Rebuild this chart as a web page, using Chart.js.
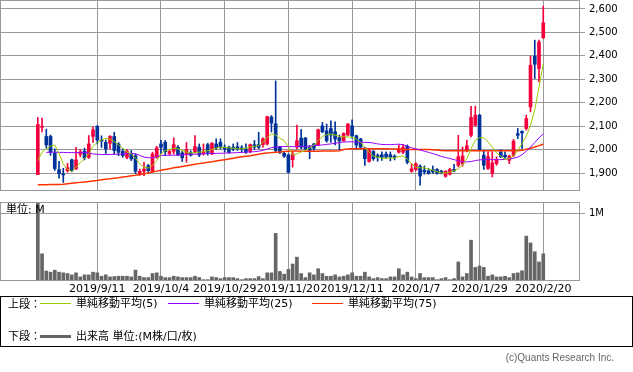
<!DOCTYPE html>
<html>
<head>
<meta charset="utf-8">
<script src="https://cdn.jsdelivr.net/npm/chart.js@4.4.1/dist/chart.umd.min.js"></script>
<style>
  body { margin: 0; background: #fff; }
  #wrap { position: relative; width: 633px; height: 372px; overflow: hidden; font-family: "DejaVu Sans", "Noto Sans CJK JP", sans-serif; }
  canvas { position: absolute; left: 0; }
  #price { top: 0; }
  #vol { top: 202px; }
  .t { position: absolute; font-size: 11px; line-height: 13px; color: #000; white-space: nowrap; font-family: "DejaVu Sans", "Noto Sans CJK JP", sans-serif; }
  #legend { position: absolute; left: 0; top: 296px; width: 633px; height: 51px; box-sizing: border-box; border: 1px solid #000; }
  .ln { position: absolute; width: 31px; }
</style>
</head>
<body>
<div id="wrap">
  <canvas id="price" width="633" height="191"></canvas>
  <canvas id="vol" width="633" height="100"></canvas>
  <div class="t" style="left:6px; top:203px;">単位: M</div>
  <div id="legend">
    <div class="t" style="left:7px; top:1px;">上段：</div>
    <div class="ln" style="left:39px; top:6px; height:1px; background:#99cc00;"></div>
    <div class="t" style="left:75px; top:0px;">単純移動平均(5)</div>
    <div class="ln" style="left:167px; top:6px; height:1px; background:#9900ff;"></div>
    <div class="t" style="left:203px; top:0px;">単純移動平均(25)</div>
    <div class="ln" style="left:311px; top:6px; height:1px; background:#ff3300;"></div>
    <div class="t" style="left:347px; top:0px;">単純移動平均(75)</div>
    <div class="t" style="left:7px; top:33px;">下段：</div>
    <div class="ln" style="left:39px; top:38px; height:3px; background:#666;"></div>
    <div class="t" style="left:75px; top:33px;">出来高 単位:(M株/口/枚)</div>
  </div>
  <div class="t" style="right:19px; top:351px; font-family:'Liberation Sans', sans-serif; font-size:10px; color:#666;">(c)Quants Research Inc.</div>
</div>
<script>
// daily candles, oldest first
const open = [
  1893, 2095, 2056, 2056, 1985, 1914, 1895, 1910, 1956, 1917,
  1980, 1993, 1967, 2056, 2099, 2041, 2031, 2027, 2056, 2024,
  1993, 1967, 1981, 1974, 1896, 1907, 1931, 1907, 1967, 2024,
  2031, 1983, 1993, 2010, 1986, 1980, 1988, 1990, 2010, 1982,
  2021, 1982, 2024, 2031, 2010, 2010, 2010, 2012, 2008, 2003,
  1991, 2021, 2021, 2021, 2024, 2139, 2110, 2010, 1984, 1977,
  1957, 2010, 2049, 2049, 2010, 2024, 2020, 2101, 2080, 2090,
  2076, 2051, 2038, 2062, 2101, 2059, 2045, 2007, 1949, 1992,
  1975, 1978, 1981, 1978, 1972, 1989, 1989, 2014, 1907, 1915,
  1929, 1912, 1909, 1915, 1915, 1908, 1886, 1895, 1915, 1933,
  1940, 1997, 2061, 2104, 2147, 1976, 1919, 1898, 1940, 1990,
  1976, 1954, 1976, 2068, 2078, 2090, 2182, 2398, 2346, 2477
];
const high = [
  2137, 2134, 2087, 2062, 2003, 1950, 1920, 1941, 1960, 2010,
  2000, 2006, 2060, 2096, 2103, 2059, 2041, 2060, 2074, 2030,
  2003, 2000, 1996, 1981, 1917, 1946, 1937, 1989, 2014, 2039,
  2039, 2000, 2050, 2017, 1992, 2030, 1995, 2060, 2024, 2024,
  2027, 2030, 2046, 2046, 2020, 2015, 2024, 2030, 2017, 2024,
  2024, 2039, 2074, 2050, 2141, 2145, 2293, 2014, 1990, 1982,
  1992, 2105, 2085, 2052, 2017, 2027, 2088, 2116, 2109, 2123,
  2118, 2062, 2072, 2111, 2127, 2062, 2048, 2010, 2003, 1996,
  1982, 1990, 1990, 1990, 1978, 2020, 2020, 2020, 1940, 1945,
  1935, 1930, 1919, 1930, 1919, 1912, 1910, 1920, 1937, 2061,
  2011, 2040, 2185, 2185, 2150, 1997, 1990, 1990, 1969, 2000,
  1990, 1976, 2043, 2090, 2080, 2147, 2398, 2467, 2467, 2612
];
const low = [
  1893, 2075, 2006, 1975, 1911, 1878, 1860, 1903, 1905, 1915,
  1970, 1956, 1962, 2031, 2024, 2009, 1983, 2003, 1981, 1974,
  1967, 1960, 1953, 1898, 1890, 1889, 1903, 1903, 1963, 1984,
  1974, 1976, 1981, 1974, 1949, 1946, 1972, 1985, 1970, 1976,
  1976, 1978, 2000, 2003, 1990, 1984, 1995, 1996, 1990, 1984,
  1986, 2000, 2003, 2010, 2020, 2075, 1991, 1982, 1966, 1900,
  1925, 2003, 2003, 1998, 1961, 1996, 2017, 2072, 2031, 2031,
  2020, 1996, 2034, 2060, 2048, 2000, 2003, 1932, 1946, 1954,
  1950, 1954, 1961, 1952, 1956, 1985, 1982, 1939, 1903, 1910,
  1848, 1895, 1895, 1898, 1895, 1896, 1882, 1891, 1905, 1926,
  1929, 1990, 2054, 2100, 1997, 1915, 1915, 1883, 1933, 1966,
  1962, 1940, 1969, 2047, 2004, 2083, 2161, 2303, 2289, 2474
];
const close = [
  2107, 2100, 2020, 1989, 1919, 1897, 1892, 1923, 1910, 1956,
  1990, 1964, 2024, 2084, 2041, 2036, 2003, 2056, 1996, 1988,
  1974, 1993, 1960, 1907, 1907, 1917, 1910, 1981, 2007, 2010,
  1991, 1992, 2021, 1977, 1965, 2000, 1976, 2013, 1977, 1993,
  1988, 2027, 2008, 2010, 2003, 1988, 2003, 2002, 2002, 1988,
  2021, 2010, 2010, 2046, 2141, 2113, 1996, 1988, 1972, 1903,
  1981, 2038, 2010, 2003, 1996, 2006, 2085, 2076, 2038, 2062,
  2045, 2037, 2069, 2109, 2059, 2020, 2010, 1961, 1996, 1961,
  1968, 1967, 1968, 1968, 1966, 2003, 2010, 1946, 1918, 1939,
  1887, 1905, 1898, 1905, 1898, 1900, 1908, 1915, 1909, 1969,
  1973, 2016, 2137, 2147, 2000, 1933, 1969, 1943, 1957, 1969,
  1969, 1972, 2036, 2061, 2071, 2132, 2360, 2364, 2459, 2541
];
// moving averages as drawn (5 / 25 / 75 days)
const ma5 = [
  1953, 1989, 2003, 2014, 2020, 1982, 1939, 1915, 1907, 1925,
  1944, 1961, 1982, 2014, 2031, 2041, 2048, 2045, 2034, 2020,
  2006, 1989, 1982, 1963, 1939, 1925, 1921, 1932, 1953, 1980,
  1996, 2000, 2006, 2003, 1996, 1989, 1986, 1986, 1989, 1991,
  1995, 2000, 2006, 2010, 2010, 2007, 2006, 2003, 2003, 2006,
  2011, 2014, 2017, 2031, 2053, 2067, 2062, 2048, 2038, 2010,
  1976, 1982, 1990, 1996, 2006, 2020, 2038, 2056, 2063, 2066,
  2062, 2056, 2055, 2054, 2052, 2045, 2031, 2010, 1989, 1972,
  1968, 1963, 1963, 1964, 1964, 1970, 1972, 1960, 1939, 1925,
  1922, 1922, 1917, 1912, 1905, 1901, 1900, 1904, 1909, 1919,
  1933, 1962, 2004, 2040, 2051, 2051, 2033, 2011, 1986, 1972,
  1957, 1962, 1972, 1997, 2026, 2057, 2104, 2168, 2267, 2367
];
const ma25 = [
  null, null, 1988, 1989, 1989, 1988, 1988, 1987, 1987, 1987,
  1988, 1988, 1986, 1981, 1980, 1979, 1979, 1979, 1980, 1980,
  1981, 1983, 1984, 1982, 1975, 1968, 1965, 1965, 1970, 1975,
  1976, 1976, 1976, 1977, 1977, 1979, 1980, 1980, 1981, 1982,
  1983, 1983, 1984, 1984, 1985, 1986, 1986, 1987, 1988, 1989,
  1990, 1991, 1993, 1997, 2002, 2008, 2011, 2012, 2013, 2013,
  2012, 2013, 2014, 2014, 2015, 2017, 2018, 2020, 2022, 2024,
  2027, 2030, 2032, 2033, 2033, 2032, 2032, 2031, 2030, 2028,
  2024, 2022, 2021, 2021, 2022, 2023, 2021, 2014, 2008, 2003,
  1998, 1993, 1988, 1983, 1977, 1971, 1966, 1962, 1957, 1952,
  1948, 1947, 1949, 1953, 1956, 1957, 1957, 1957, 1957, 1957,
  1958, 1960, 1963, 1968, 1978, 1993, 2010, 2030, 2050, 2067
];
const ma75 = [
  1850, 1850, 1850, 1851, 1851, 1851, 1852, 1854, 1856, 1858,
  1860, 1862, 1864, 1866, 1868, 1871, 1873, 1875, 1878, 1880,
  1883, 1885, 1888, 1890, 1894, 1897, 1900, 1904, 1908, 1912,
  1915, 1918, 1922, 1925, 1928, 1931, 1934, 1937, 1940, 1943,
  1946, 1948, 1951, 1954, 1957, 1960, 1963, 1966, 1969, 1972,
  1974, 1977, 1980, 1983, 1985, 1987, 1989, 1990, 1992, 1993,
  1994, 1994, 1993, 1993, 1993, 1993, 1993, 1994, 1994, 1994,
  1994, 1995, 2000, 2002, 2003, 2003, 2003, 2003, 2003, 2003,
  2003, 2003, 2003, 2002, 2002, 2002, 2001, 2000, 2000, 2000,
  2000, 2000, 2000, 1999, 1998, 1996, 1995, 1995, 1995, 1995,
  1995, 1995, 1995, 1995, 1995, 1995, 1995, 1995, 1995, 1995,
  1995, 1995, 1995, 1995, 1997, 2001, 2006, 2011, 2017, 2023
];
// volume in millions of shares
const volume = [
  1.2, 0.40, 0.147, 0.13, 0.16, 0.13, 0.12, 0.11, 0.09, 0.12,
  0.06, 0.09, 0.09, 0.13, 0.12, 0.07, 0.09, 0.06, 0.065, 0.07,
  0.07, 0.07, 0.06, 0.16, 0.07, 0.05, 0.05, 0.11, 0.12, 0.07,
  0.05, 0.05, 0.07, 0.06, 0.05, 0.05, 0.05, 0.07, 0.05, 0.02,
  0.02, 0.06, 0.05, 0.035, 0.05, 0.05, 0.05, 0.035, 0.02, 0.035,
  0.035, 0.035, 0.065, 0.035, 0.12, 0.12, 0.70, 0.14, 0.10, 0.17,
  0.25, 0.35, 0.11, 0.05, 0.12, 0.09, 0.18, 0.11, 0.07, 0.07,
  0.09, 0.06, 0.07, 0.09, 0.12, 0.07, 0.07, 0.13, 0.06, 0.035,
  0.05, 0.035, 0.035, 0.06, 0.06, 0.18, 0.09, 0.13, 0.06, 0.035,
  0.11, 0.05, 0.05, 0.05, 0.02, 0.035, 0.05, 0.02, 0.035, 0.28,
  0.06, 0.11, 0.60, 0.20, 0.22, 0.20, 0.07, 0.09, 0.06, 0.06,
  0.07, 0.05, 0.11, 0.12, 0.15, 0.66, 0.56, 0.43, 0.28, 0.40
];
// date gridlines (bar index -> label)
const dateTickIdx = [14, 29, 44, 59, 74, 89, 104, 119];
const dateLabels = ["2019/9/11", "2019/10/4", "2019/10/29", "2019/11/20", "2019/12/11", "2020/1/7", "2020/1/29", "2020/2/20"];
const priceTicks = [1900, 2000, 2100, 2200, 2300, 2400, 2500, 2600];
const volTicks = [1];

const UP = "#f5003c", DOWN = "#003399", GRID = "#999999";
const X_MIN = -8.9, X_MAX = 127.65;

const idx = close.map((_, i) => i);
const candleCol = idx.map(i => close[i] >= open[i] ? UP : DOWN);
const pts = arr => arr.map((v, i) => ({ x: i, y: v })).filter(p => p.y !== null);

const frame = {
  id: "frame",
  afterDraw(c) {
    const a = c.chartArea, ctx = c.ctx;
    ctx.save();
    ctx.strokeStyle = GRID;
    ctx.lineWidth = 1;
    ctx.strokeRect(a.left + 0.5, a.top + 0.5, a.right - a.left - 1, a.bottom - a.top - 1);
    ctx.restore();
  }
};

function xScale(showLabels) {
  return {
    type: "linear", min: X_MIN, max: X_MAX, offset: false,
    grid: { offset: false, color: GRID, drawTicks: false },
    border: { display: false },
    ticks: {
      display: showLabels, autoSkip: false, maxRotation: 0, padding: 2,
      color: "#000", font: { family: "DejaVu Sans", size: 11 },
      callback: v => dateLabels[dateTickIdx.indexOf(v)] || ""
    },
    afterBuildTicks: s => { s.ticks = dateTickIdx.map(v => ({ value: v })); },
    afterFit: s => { s.height = showLabels ? 21 : 0; }
  };
}

function yScale(min, max, ticks, fmt) {
  return {
    position: "right", min: min, max: max,
    grid: { color: GRID, tickLength: 5 },
    border: { display: false },
    ticks: { color: "#000", padding: 4, font: { family: "DejaVu Sans", size: 10 }, callback: fmt },
    afterBuildTicks: s => { s.ticks = ticks.map(v => ({ value: v })); },
    afterFit: s => { s.width = 53; s.paddingTop = 0; s.paddingBottom = 0; }
  };
}

Chart.defaults.devicePixelRatio = 1;

new Chart(document.getElementById("price"), {
  type: "bar",
  data: {
    datasets: [
      { type: "line", data: pts(ma5), borderColor: "#99cc00", borderWidth: 1, pointRadius: 0, tension: 0, order: 0 },
      { type: "line", data: pts(ma25), borderColor: "#9900ff", borderWidth: 1, pointRadius: 0, tension: 0, order: 1 },
      { type: "line", data: pts(ma75), borderColor: "#ff3300", borderWidth: 1.5, pointRadius: 0, tension: 0, order: 2 },
      { data: idx.map(i => ({ x: i, y: [open[i], close[i]] })), backgroundColor: candleCol,
        barThickness: 3, minBarLength: 1, grouped: false, order: 3 },
      { data: idx.map(i => ({ x: i, y: [low[i], high[i]] })), backgroundColor: candleCol,
        barThickness: 1, grouped: false, order: 4 }
    ]
  },
  options: {
    responsive: false, animation: false,
    layout: { padding: 0 },
    plugins: { legend: { display: false }, tooltip: { enabled: false } },
    scales: {
      x: xScale(false),
      y: yScale(1823.2, 2638.4, priceTicks, v => v.toLocaleString("en-US"))
    }
  },
  plugins: [frame]
});

new Chart(document.getElementById("vol"), {
  type: "bar",
  data: {
    datasets: [
      { data: idx.map(i => ({ x: i, y: volume[i] })), backgroundColor: "#666666", barThickness: 3, grouped: false }
    ]
  },
  options: {
    responsive: false, animation: false,
    layout: { padding: 0 },
    plugins: { legend: { display: false }, tooltip: { enabled: false } },
    scales: {
      x: xScale(true),
      y: yScale(0, 1.1618, volTicks, v => v + "M")
    }
  },
  plugins: [frame]
});
</script>
</body>
</html>
